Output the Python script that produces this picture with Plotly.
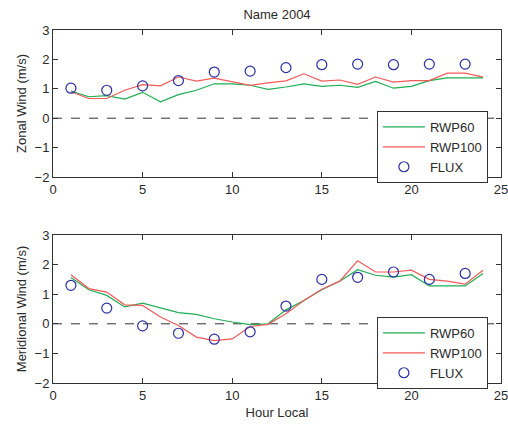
import plotly.graph_objects as go

hours = list(range(1, 25))
flux_hours = list(range(1, 24, 2))

zonal_rwp60 = [0.92, 0.73, 0.77, 0.65, 0.88, 0.56, 0.80, 0.95, 1.17, 1.17, 1.12, 0.98,
               1.06, 1.17, 1.08, 1.12, 1.05, 1.25, 1.02, 1.08, 1.28, 1.37, 1.37, 1.37]
zonal_rwp100 = [0.90, 0.67, 0.67, 0.95, 1.14, 1.10, 1.40, 1.26, 1.36, 1.24, 1.12, 1.20,
                1.27, 1.51, 1.26, 1.30, 1.15, 1.40, 1.23, 1.28, 1.28, 1.53, 1.53, 1.40]
zonal_flux = [1.02, 0.95, 1.10, 1.28, 1.57, 1.60, 1.72, 1.82, 1.84, 1.82, 1.84, 1.84]

merid_rwp60 = [1.56, 1.15, 0.96, 0.57, 0.70, 0.54, 0.38, 0.32, 0.17, 0.06, -0.03, 0.00,
               0.47, 0.79, 1.15, 1.44, 1.83, 1.64, 1.58, 1.66, 1.28, 1.28, 1.28, 1.70]
merid_rwp100 = [1.66, 1.19, 1.07, 0.64, 0.62, 0.23, -0.06, -0.45, -0.57, -0.51, -0.09, -0.02,
                0.34, 0.79, 1.17, 1.44, 2.13, 1.75, 1.75, 1.81, 1.50, 1.44, 1.34, 1.81]
merid_flux = [1.30, 0.53, -0.07, -0.32, -0.52, -0.27, 0.60, 1.50, 1.57, 1.75, 1.50, 1.70]

x_ticks = [0, 5, 10, 15, 20, 25]
y_ticks = [-2, -1, 0, 1, 2, 3]

GREEN = "#1fae55"
RED = "#f25a5a"
BLUE = "#2b2fa0"
FONT = "Liberation Sans"
TXT = "#2a2a2a"

fig = go.Figure()

panels = [
    (zonal_rwp60, zonal_rwp100, zonal_flux, "x", "y", "legend"),
    (merid_rwp60, merid_rwp100, merid_flux, "x2", "y2", "legend2"),
]
for g, r, f, xa, ya, lg in panels:
    fig.add_trace(go.Scatter(x=hours, y=g, mode="lines", name="RWP60",
                             line=dict(color=GREEN, width=1.2), xaxis=xa, yaxis=ya, legend=lg))
    fig.add_trace(go.Scatter(x=hours, y=r, mode="lines", name="RWP100",
                             line=dict(color=RED, width=1.2), xaxis=xa, yaxis=ya, legend=lg))
    fig.add_trace(go.Scatter(x=flux_hours, y=f, mode="markers", name="FLUX",
                             marker=dict(symbol="circle-open", size=10, color=BLUE,
                                         line=dict(width=1.2, color=BLUE)),
                             xaxis=xa, yaxis=ya, legend=lg))

axis_common = dict(showline=True, linecolor="#333", linewidth=1, mirror="ticks",
                   ticks="inside", ticklen=5, tickcolor="#333", showgrid=False,
                   zeroline=False, automargin=False, ticklabeloverflow="allow",
                   tickfont=dict(size=13, color=TXT, family=FONT))

legend_common = dict(xanchor="left", yanchor="top", bgcolor="white",
                     bordercolor="#333", borderwidth=1,
                     font=dict(size=13, family=FONT, color=TXT),
                     itemwidth=42, tracegroupgap=0)

fig.update_layout(
    width=508, height=424,
    margin=dict(l=53, r=7, t=30, b=41, autoexpand=False),
    paper_bgcolor="white", plot_bgcolor="white",
    font=dict(family=FONT, size=13, color=TXT),
    showlegend=True,
    title=dict(text="Name 2004", x=0.5, xref="paper", y=0.967, yanchor="middle",
               font=dict(size=13, family=FONT, color=TXT)),
    xaxis=dict(domain=[0, 1], range=[0, 25], tickvals=x_ticks, anchor="y", **axis_common),
    yaxis=dict(domain=[0.5836, 1], range=[-2, 3], tickvals=y_ticks, anchor="x",
               title=dict(text="Zonal Wind (m/s)", standoff=5, font=dict(size=13)), **axis_common),
    xaxis2=dict(domain=[0, 1], range=[0, 25], tickvals=x_ticks, anchor="y2",
                title=dict(text="Hour Local", standoff=6, font=dict(size=13)), **axis_common),
    yaxis2=dict(domain=[0, 0.4193], range=[-2, 3], tickvals=y_ticks, anchor="x2",
                title=dict(text="Meridional Wind (m/s)", standoff=5, font=dict(size=13)), **axis_common),
    legend=dict(x=0.723, y=0.7705, **legend_common),
    legend2=dict(x=0.723, y=0.187, **legend_common),
)

for ya, xa in [("y", "x"), ("y2", "x2")]:
    fig.add_shape(type="line", xref=f"{xa} domain", yref=ya, x0=0, x1=1, y0=0, y1=0,
                  line=dict(color="#333", width=1, dash="dash"), layer="below")

fig.write_html(
    "out.html",
    config={"displayModeBar": False},
    post_script="document.body.style.margin='0';document.body.style.padding='0';"
                "document.body.style.overflow='hidden';",
)
